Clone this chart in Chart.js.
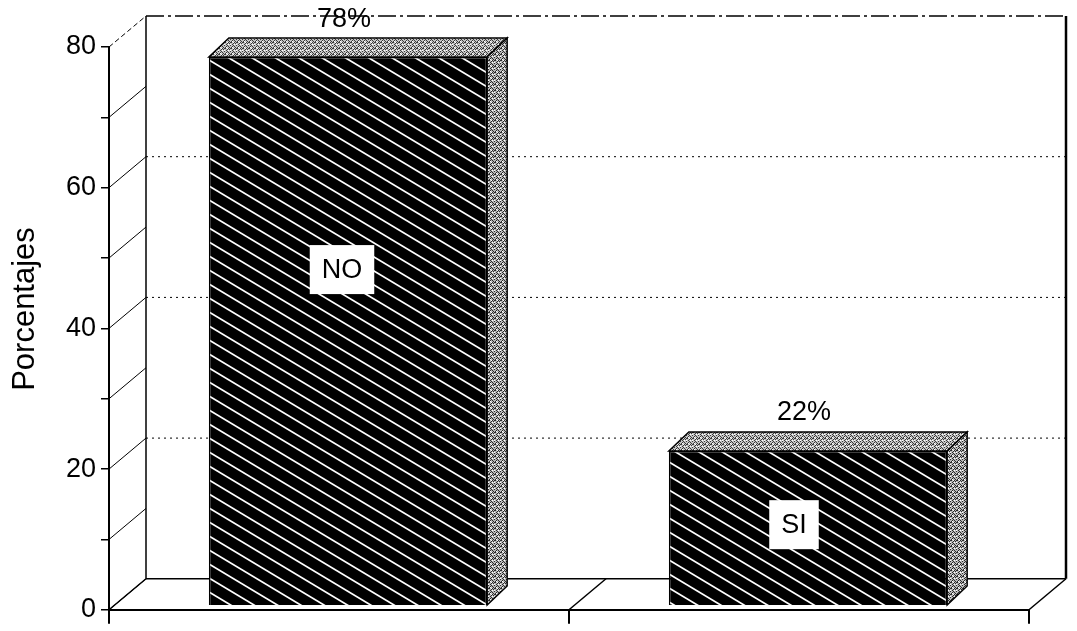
<!DOCTYPE html>
<html>
<head>
<meta charset="utf-8">
<script src="https://cdn.jsdelivr.net/npm/chart.js@4.4.1/dist/chart.umd.min.js"></script>
<style>
html, body { margin: 0; padding: 0; background: #fff; }
#wrap { width: 1077px; height: 631px; }
</style>
</head>
<body>
<div id="wrap"><canvas id="grafica" width="1077" height="631"></canvas></div>
<script>
const categorias = ['NO', 'SI'];
const porcentajes = [78, 22];
const etiquetasY = [0, 20, 40, 60, 80];
const tituloY = 'Porcentajes';

const fuente = "'Liberation Sans', Arial, Helvetica, sans-serif";
const prof = { dx: 37, dy: -31 };        // fondo del grafico
const barraProf = { dx: 20, dy: -19 };   // profundidad de cada barra
const desplaza = { dx: 9, dy: -4 };      // barras algo hacia el fondo
// posicion del cuadro con el nombre dentro de la barra
const cuadroPos = [{ fx: -6, fy: 0.62 }, { fx: -14, fy: 0.55 }];

const graph = document.querySelector('#grafica');
const g = graph.getContext('2d');

function patronRayado() {
  const c = document.createElement('canvas');
  c.width = 70; c.height = 14;
  const x = c.getContext('2d');
  x.fillStyle = '#000';
  x.fillRect(0, 0, 70, 14);
  x.strokeStyle = '#fff';
  x.lineWidth = 1.7;
  for (let k = -4; k <= 1; k++) {
    x.beginPath();
    x.moveTo(-1, k * 14 - 0.6);
    x.lineTo(71, k * 14 + 42.6);
    x.stroke();
  }
  return g.createPattern(c, 'repeat');
}

function patronPuntos(base, punto) {
  const c = document.createElement('canvas');
  c.width = 6; c.height = 6;
  const x = c.getContext('2d');
  x.fillStyle = base;
  x.fillRect(0, 0, 6, 6);
  x.fillStyle = punto;
  [[0,0],[3,0],[1,1],[4,2],[2,3],[5,3],[0,4],[3,5],[1,5],[5,1],[2,0],[4,4]].forEach(function(p) {
    x.fillRect(p[0], p[1], 1, 1);
  });
  x.fillStyle = '#fff';
  [[2,2],[5,0],[0,2],[4,5]].forEach(function(p) {
    x.fillRect(p[0], p[1], 1, 1);
  });
  return g.createPattern(c, 'repeat');
}

const rayado = patronRayado();
const grisArriba = patronPuntos('#c4c4c4', '#3a3a3a');
const grisLado = patronPuntos('#b8b8b8', '#2a2a2a');

function linea(ctx, x1, y1, x2, y2, ancho, guiones) {
  ctx.save();
  ctx.lineWidth = ancho;
  ctx.strokeStyle = '#000';
  ctx.setLineDash(guiones || []);
  ctx.beginPath();
  ctx.moveTo(x1, y1);
  ctx.lineTo(x2, y2);
  ctx.stroke();
  ctx.restore();
}

function poligono(ctx, pts, relleno) {
  ctx.beginPath();
  ctx.moveTo(pts[0][0], pts[0][1]);
  for (let i = 1; i < pts.length; i++) ctx.lineTo(pts[i][0], pts[i][1]);
  ctx.closePath();
  ctx.fillStyle = relleno;
  ctx.fill();
  ctx.lineWidth = 1.5;
  ctx.strokeStyle = '#000';
  ctx.stroke();
}

const pared3d = {
  id: 'pared3d',
  beforeDraw(chart) {
    const ctx = chart.ctx;
    ctx.save();
    ctx.fillStyle = '#fff';
    ctx.fillRect(0, 0, chart.width, chart.height);
    ctx.restore();
  },
  beforeDatasetsDraw(chart) {
    const ctx = chart.ctx;
    const a = chart.chartArea;
    const y = chart.scales.y;
    const L = a.left, R = a.right, T = a.top, B = a.bottom;
    const dx = prof.dx, dy = prof.dy;

    // pared lateral: diagonales en cada 10
    for (let v = 0; v <= 80; v += 10) {
      const py = y.getPixelForValue(v);
      linea(ctx, L, py, L + dx, py + dy, 1, v === 80 ? [5, 3] : []);
    }
    // pared del fondo
    linea(ctx, L + dx, T + dy, L + dx, B + dy, 1.5);
    linea(ctx, R + dx, T + dy, R + dx, B + dy, 2.5);
    linea(ctx, L + dx, T + dy, R + dx, T + dy, 1.5, [18, 4, 3, 4]);
    etiquetasY.forEach(function(v) {
      if (v === 0 || v === 80) return;
      const py = y.getPixelForValue(v) + dy;
      linea(ctx, L + dx, py, R + dx, py, 1, [2, 4]);
    });
    // piso
    linea(ctx, L + dx, B + dy, R + dx, B + dy, 1.5);
    const n = categorias.length;
    const paso = (R - L) / n;
    for (let i = 0; i <= n; i++) {
      const px = L + i * paso;
      linea(ctx, px, B, px + dx, B + dy, 1.5);
    }

    ctx.save();
    ctx.translate(desplaza.dx, desplaza.dy);
  },
  afterDatasetsDraw(chart) {
    const ctx = chart.ctx;
    ctx.restore();
    const meta = chart.getDatasetMeta(0);
    meta.data.forEach(function(bar, i) {
      const p = bar.getProps(['x', 'y', 'base', 'width'], true);
      const Lb = p.x - p.width / 2 + desplaza.dx;
      const Rb = p.x + p.width / 2 + desplaza.dx;
      const Tb = p.y + desplaza.dy;
      const Bb = p.base + desplaza.dy;
      const bx = barraProf.dx, by = barraProf.dy;
      ctx.save();
      poligono(ctx, [[Lb, Tb], [Lb + bx, Tb + by], [Rb + bx, Tb + by], [Rb, Tb]], grisArriba);
      poligono(ctx, [[Rb, Tb], [Rb + bx, Tb + by], [Rb + bx, Bb + by], [Rb, Bb]], grisLado);

      // porcentaje arriba
      ctx.fillStyle = '#000';
      ctx.font = '27px ' + fuente;
      ctx.textAlign = 'center';
      ctx.textBaseline = 'middle';
      const cx = (Lb + Rb) / 2;
      ctx.fillText(porcentajes[i] + '%', cx - 4, Tb + by - 19);

      // nombre en cuadro blanco
      ctx.font = '27px ' + fuente;
      const tw = ctx.measureText(categorias[i]).width;
      const bw = tw + 24, bh = 49;
      const pos = cuadroPos[i];
      const qx = cx + pos.fx;
      const qy = chart.scales.y.getPixelForValue(porcentajes[i] * pos.fy);
      ctx.fillStyle = '#fff';
      ctx.fillRect(qx - bw / 2, qy - bh / 2, bw, bh);
      ctx.fillStyle = '#000';
      ctx.fillText(categorias[i], qx, qy + 1);
      ctx.restore();
    });
  },
  afterDraw(chart) {
    const ctx = chart.ctx;
    ctx.save();
    ctx.translate(25, 309);
    ctx.rotate(-Math.PI / 2);
    ctx.fillStyle = '#000';
    ctx.font = '31px ' + fuente;
    ctx.textAlign = 'center';
    ctx.textBaseline = 'middle';
    ctx.fillText(tituloY, 0, 0);
    ctx.restore();
  }
};

const dataset1 = {
  label: tituloY,
  data: porcentajes,
  backgroundColor: rayado,
  borderColor: '#000',
  borderWidth: 1.5,
  categoryPercentage: 1,
  barPercentage: 0.605
};

const config = {
  type: 'bar',
  data: { labels: categorias, datasets: [dataset1] },
  options: {
    responsive: false,
    animation: false,
    devicePixelRatio: 1,
    layout: { padding: { top: 47, right: 48, left: 0, bottom: 0 } },
    plugins: { legend: { display: false }, tooltip: { enabled: false } },
    scales: {
      x: {
        grid: { offset: true, drawOnChartArea: false, drawTicks: true, tickLength: 14, color: '#000', lineWidth: 2 },
        border: { display: true, color: '#000', width: 2 },
        ticks: { display: false },
        afterFit(scale) { scale.height = 17; }
      },
      y: {
        min: 0,
        max: 80,
        grid: { drawOnChartArea: false, drawTicks: true, tickLength: 8, color: '#000', lineWidth: 1.5 },
        border: { display: true, color: '#000', width: 2 },
        ticks: {
          stepSize: 10,
          padding: 5,
          color: '#000',
          font: { family: fuente, size: 27 },
          callback: function(v) { return etiquetasY.includes(v) ? v : ''; }
        },
        afterFit(scale) { scale.width = 109; }
      }
    }
  },
  plugins: [pared3d]
};

new Chart(graph, config);
</script>
</body>
</html>
